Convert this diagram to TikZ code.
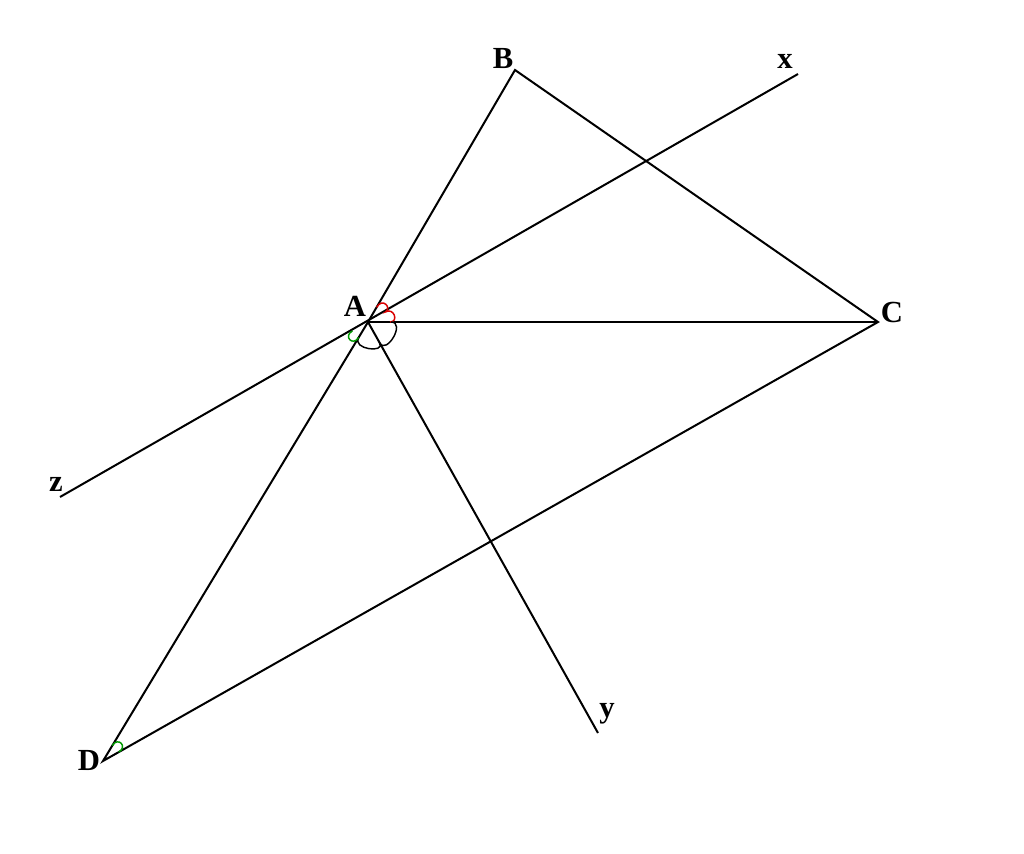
\documentclass[tikz,border=0pt]{standalone}
\usepackage{fontspec}
\setmainfont{Liberation Serif}
\tikzset{every picture/.style={line width=1.5pt}}
\tikzset{ptlabel/.style={inner sep=0.75pt,font=\fontsize{23}{26}\selectfont\bfseries}}
\tikzset{redmark/.style={red!85!black,line width=1.1pt}}
\tikzset{greenmark/.style={green!60!black,line width=1.1pt}}
\tikzset{blackmark/.style={black,line width=1.1pt}}

\begin{document}
\begin{tikzpicture}[x=0.75pt,y=0.75pt,yscale=-1,xscale=1]
    \useasboundingbox (0,0) rectangle (1024,853);
    % Points
    \coordinate (A) at (368,322);
    \coordinate (B) at (515,70);
    \coordinate (C) at (878,322);
    \coordinate (D) at (103,761);
    \coordinate (x) at (798,74);
    \coordinate (y) at (598,733);
    \coordinate (z) at (60,497);
    % Lines
    \draw (A) -- (B) -- (C) -- (D) -- cycle;
    \draw (A) -- (C);
    \draw (z) -- (x);
    \draw (A) -- (y);
    % Angle marks at A (polar, angles measured upwards)
    \begin{scope}[shift={(A)},yscale=-1]
        \draw[redmark] (59.7:17) .. controls (59.7:29) and (30:28) .. (30:20)
            .. controls (30:30) and (0:31) .. (0:22);
        \draw[blackmark] (0:23) .. controls (0:38) and (-60.8:38) .. (-60.8:24)
            .. controls (-60.8:36) and (-121.1:32) .. (-121.1:18);
        \draw[greenmark] (209.6:18) .. controls (209.6:29) and (238.9:29) .. (238.9:18);
    \end{scope}
    % Angle mark at D
    \begin{scope}[shift={(D)},yscale=-1]
        \draw[greenmark] (58.9:18) .. controls (58.9:29) and (29.5:29) .. (29.5:18);
    \end{scope}
    % Text Nodes
    \node[ptlabel] (lA) at (355,306) {A};
    \node[ptlabel] (lB) at (503,59) {B};
    \node[ptlabel] (lC) at (892,312) {C};
    \node[ptlabel] (lD) at (89,760) {D};
    \node[ptlabel] (lx) at (785,61) {x};
    \node[ptlabel] (ly) at (607,714) {y};
    \node[ptlabel] (lz) at (56,484) {z};
\end{tikzpicture}
\end{document}
